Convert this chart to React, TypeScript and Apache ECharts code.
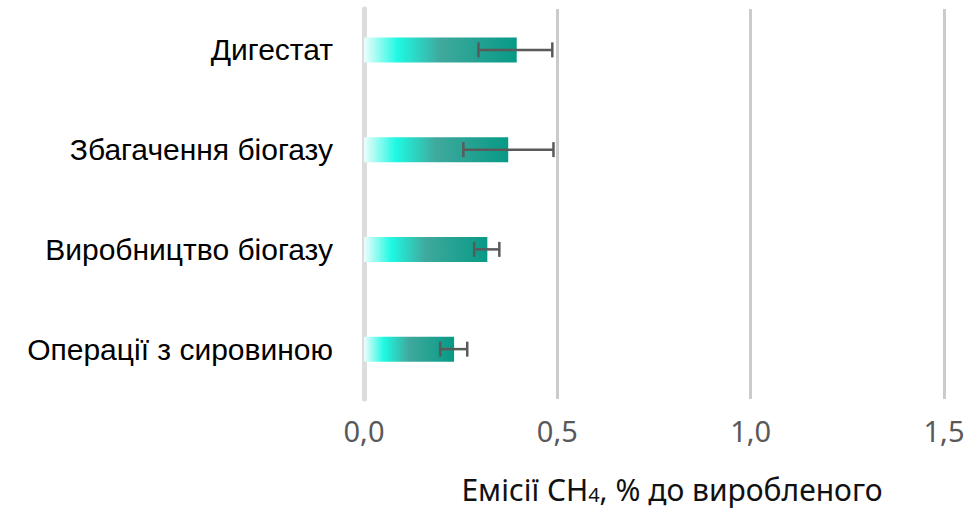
import React, { useEffect, useRef } from "react";
import * as echarts from "echarts";

const categories = ["Дигестат", "Збагачення біогазу", "Виробництво біогазу", "Операції з сировиною"];
const values = [0.395, 0.373, 0.319, 0.233];
const errLow = [0.296, 0.257, 0.285, 0.197];
const errHigh = [0.487, 0.49, 0.35, 0.267];
const axisMin = 0;
const axisMax = 1.5;
const axisStep = 0.5;

export default function App() {
  const ref = useRef<HTMLDivElement>(null);
  useEffect(() => {
    document.body.style.margin = "0";
    const chart = echarts.init(ref.current!, null, { renderer: "svg" });
    const barGradient = new echarts.graphic.LinearGradient(0, 0, 1, 0, [
      { offset: 0, color: "#eefdfc" },
      { offset: 0.22, color: "#1ef9e3" },
      { offset: 0.5, color: "#3fa99d" },
      { offset: 1, color: "#079a86" },
    ]);
    chart.setOption({
      animation: false,
      grid: [
        { left: 364, right: 31, top: 9, bottom: 113 },
        { left: 364, right: 31, top: -1, bottom: 113 },
      ],
      xAxis: [
        {
          gridIndex: 0,
          type: "value",
          min: axisMin,
          max: axisMax,
          interval: axisStep,
          axisLine: { show: false },
          axisTick: { show: false },
          splitLine: { show: true, lineStyle: { color: "#cbcbcb", width: 3 } },
          axisLabel: {
            margin: 17,
            fontFamily: "Noto Sans",
            fontSize: 29,
            color: "#595959",
            formatter: (v: number) => v.toFixed(1).replace(".", ","),
          },
          name: "Емісії CH{sub|4}, % до виробленого",
          nameLocation: "middle",
          nameGap: 75,
          nameTextStyle: {
            fontFamily: "Noto Sans",
            fontSize: 30,
            color: "#111111",
            padding: [0, 0, 0, 36],
            rich: {
              sub: { fontFamily: "Noto Sans", fontSize: 20, color: "#111111", verticalAlign: "bottom", padding: [10, 0, 0, 0] },
            },
          },
        },
        {
          gridIndex: 1,
          type: "value",
          min: axisMin,
          max: axisMax,
          interval: axisStep,
          show: false,
        },
      ],
      yAxis: [
        {
          gridIndex: 0,
          type: "value",
          axisLine: { show: true, lineStyle: { color: "#dcdcdc", width: 5 } },
          axisTick: { show: false },
          axisLabel: { show: false },
          splitLine: { show: false },
        },
        {
          gridIndex: 1,
          type: "category",
          inverse: true,
          data: categories,
          axisLine: { show: false },
          axisTick: { show: false },
          splitLine: { show: false },
          axisLabel: {
            margin: 31,
            fontFamily: "'Liberation Sans', Arial, sans-serif",
            fontSize: 30,
            color: "#000000",
          },
        },
      ],
      series: [
        {
          type: "bar",
          xAxisIndex: 1,
          yAxisIndex: 1,
          data: values,
          barWidth: 25,
          itemStyle: { color: barGradient },
        },
        {
          type: "custom",
          xAxisIndex: 1,
          yAxisIndex: 1,
          data: errLow.map((lo, i) => [lo, errHigh[i], i]),
          encode: { x: [0, 1], y: 2 },
          renderItem: (params: any, api: any) => {
            const lo = api.coord([api.value(0), api.value(2)]);
            const hi = api.coord([api.value(1), api.value(2)]);
            const h = 7.5;
            const style = { stroke: "#5a5a5a", lineWidth: 2.5 };
            return {
              type: "group",
              children: [
                { type: "line", shape: { x1: lo[0], y1: lo[1], x2: hi[0], y2: hi[1] }, style },
                { type: "line", shape: { x1: lo[0], y1: lo[1] - h, x2: lo[0], y2: lo[1] + h }, style },
                { type: "line", shape: { x1: hi[0], y1: hi[1] - h, x2: hi[0], y2: hi[1] + h }, style },
              ],
            };
          },
          z: 5,
        },
      ],
    });
    return () => chart.dispose();
  }, []);
  return <div ref={ref} style={{ width: 975, height: 512 }} />;
}
